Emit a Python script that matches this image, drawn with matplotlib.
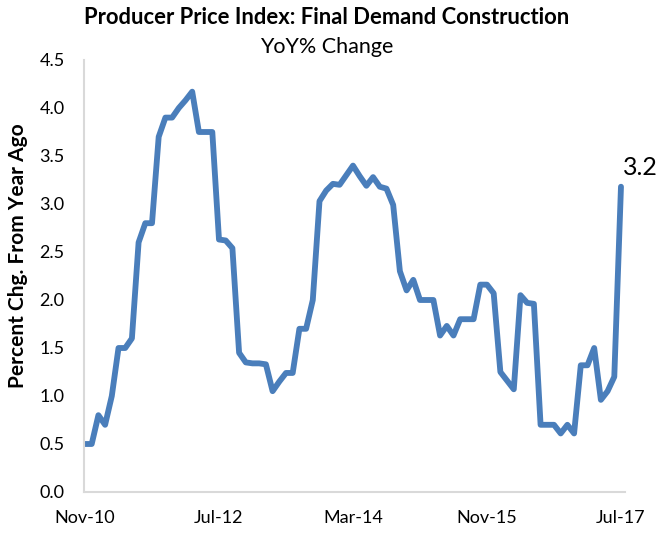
import matplotlib
matplotlib.use("Agg")
import matplotlib.pyplot as plt

months = ["Nov-10","Dec-10","Jan-11","Feb-11","Mar-11","Apr-11","May-11","Jun-11","Jul-11","Aug-11","Sep-11","Oct-11",
          "Nov-11","Dec-11","Jan-12","Feb-12","Mar-12","Apr-12","May-12","Jun-12","Jul-12","Aug-12","Sep-12","Oct-12",
          "Nov-12","Dec-12","Jan-13","Feb-13","Mar-13","Apr-13","May-13","Jun-13","Jul-13","Aug-13","Sep-13","Oct-13",
          "Nov-13","Dec-13","Jan-14","Feb-14","Mar-14","Apr-14","May-14","Jun-14","Jul-14","Aug-14","Sep-14","Oct-14",
          "Nov-14","Dec-14","Jan-15","Feb-15","Mar-15","Apr-15","May-15","Jun-15","Jul-15","Aug-15","Sep-15","Oct-15",
          "Nov-15","Dec-15","Jan-16","Feb-16","Mar-16","Apr-16","May-16","Jun-16","Jul-16","Aug-16","Sep-16","Oct-16",
          "Nov-16","Dec-16","Jan-17","Feb-17","Mar-17","Apr-17","May-17","Jun-17","Jul-17"]
values = [0.50,0.50,0.80,0.70,1.00,1.50,1.50,1.60,2.60,2.80,2.80,3.70,
          3.90,3.90,4.00,4.08,4.17,3.75,3.75,3.75,2.63,2.62,2.54,1.45,
          1.35,1.34,1.34,1.33,1.05,1.15,1.24,1.24,1.70,1.70,2.00,3.03,
          3.14,3.21,3.20,3.30,3.40,3.29,3.19,3.28,3.18,3.16,2.99,2.30,
          2.10,2.21,2.00,2.00,2.00,1.63,1.73,1.63,1.80,1.80,1.80,2.16,
          2.16,2.07,1.25,1.16,1.07,2.05,1.97,1.96,0.70,0.70,0.70,0.61,
          0.70,0.61,1.32,1.32,1.50,0.96,1.05,1.20,3.18]
tick_labels = ["Nov-10", "Jul-12", "Mar-14", "Nov-15", "Jul-17"]
y_ticks = [0.0, 0.5, 1.0, 1.5, 2.0, 2.5, 3.0, 3.5, 4.0, 4.5]
last_label = "3.2"

plt.rcParams['font.family'] = ['Lato', 'DejaVu Sans']

fig = plt.figure(figsize=(6.6, 5.33), dpi=100)
ax = fig.add_axes([84/660, 1-492/533, (625-84)/660, (492-60)/533])

x = list(range(len(months)))
ax.plot(x, values, color="#4a7ebb", linewidth=4.2, solid_joinstyle="round", solid_capstyle="round")

ax.set_xlim(-0.15, 80.6)
ax.set_ylim(0, 4.5)
ax.set_yticks(y_ticks)
ax.set_yticklabels([f"{v:.1f}" for v in y_ticks], fontsize=13)
ax.set_xticks([months.index(t) for t in tick_labels])
ax.set_xticklabels(tick_labels, fontsize=13)
ax.tick_params(axis="both", length=0)
ax.tick_params(axis="x", pad=13)
ax.tick_params(axis="y", pad=14)

for s in ["top", "right"]:
    ax.spines[s].set_visible(False)
for s in ["left", "bottom"]:
    ax.spines[s].set_color("#d9d9d9")
    ax.spines[s].set_linewidth(1.5)

fig.text(18/660, 1-256/533, "Percent Chg. From Year Ago", rotation=90,
         ha="center", va="center", fontsize=15, fontweight="bold")
ax.annotate(last_label, xy=(x[-1], values[-1]), xytext=(14, 14), textcoords="offset points",
            ha="center", va="center", fontsize=18)

fig.text(327/660, 1-18/533, "Producer Price Index: Final Demand Construction",
         ha="center", va="center", fontsize=15.8, fontweight="bold")
fig.text(327/660, 1-47/533, "YoY% Change", ha="center", va="center", fontsize=15.5)

fig.savefig("out.png", dpi=100)
